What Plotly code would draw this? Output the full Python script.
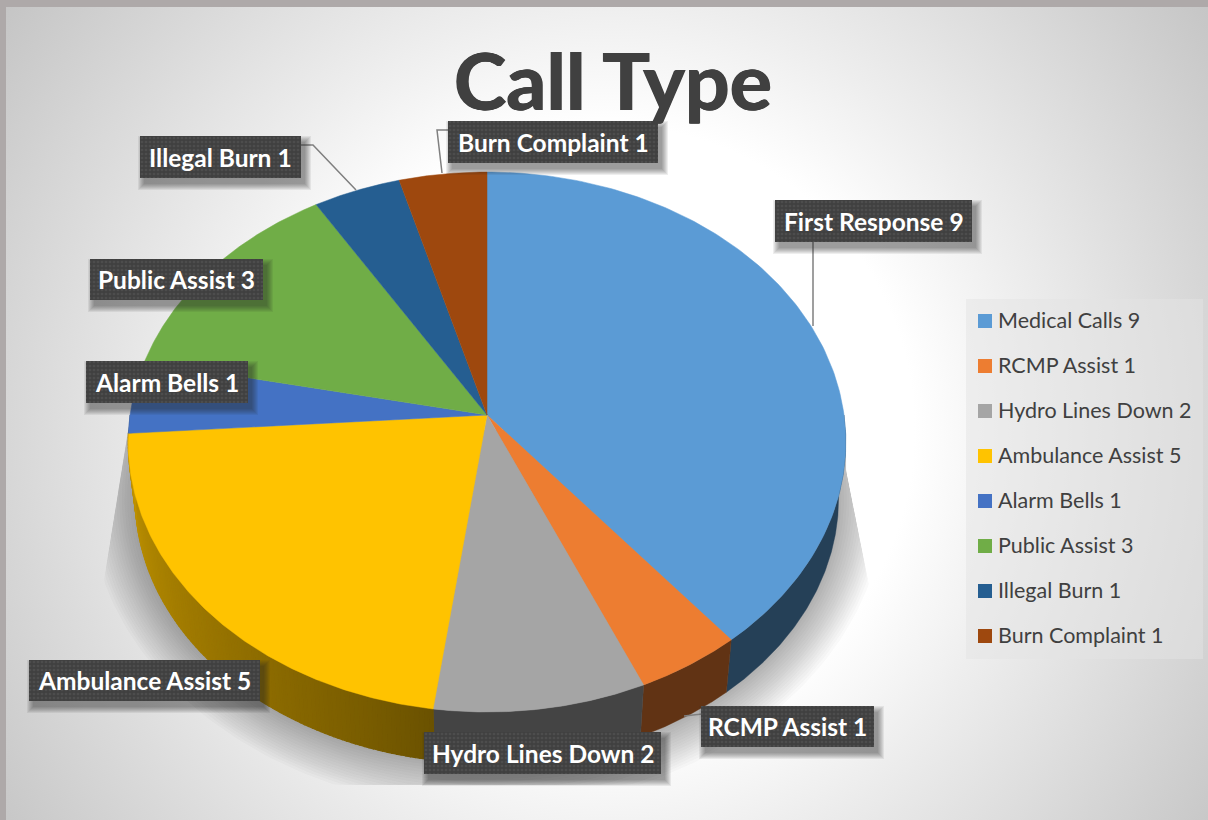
import base64
import numpy as np
import plotly.graph_objects as go

# ---- data ----
legend_names = ["Medical Calls", "RCMP Assist", "Hydro Lines Down", "Ambulance Assist",
                "Alarm Bells", "Public Assist", "Illegal Burn", "Burn Complaint"]
label_names = ["First Response", "RCMP Assist", "Hydro Lines Down", "Ambulance Assist",
               "Alarm Bells", "Public Assist", "Illegal Burn", "Burn Complaint"]
values = [9, 1, 2, 5, 1, 3, 1, 1]
colors = ["#5B9BD5", "#ED7D31", "#A5A5A5", "#FFC300", "#4472C4", "#70AD47", "#255E91", "#9E480E"]

# ---- layout constants ----
W, H = 1208, 820
CX, CY = 487, 415
A, B, K = 357, 267.3, 0.10      # perspective disc
DEPTH, SHRINK = 57, 0.98        # extrusion
label_boxes = [(775, 200, 972, 242), (701, 706, 874, 747), (424, 732, 661, 774), (29, 660, 260, 701),
               (86, 361, 248, 403), (90, 259, 263, 300), (140, 136, 301, 178), (448, 121, 658, 163)]
leaders = [[(813, 242), (813, 326)], [(702, 714), (684, 716)], None, None, None, None,
           [(301, 145), (313, 145), (356, 190)], [(448, 130), (437, 130), (442, 173)]]
legend_ys = [321, 366, 411, 456, 501, 546, 591, 636]

# ---- geometry helpers ----
def rim(th):
    u, v = np.sin(th), np.cos(th)
    w = 1 + K * v
    return CX + A * u / w, CY - B * v / w

def low(th):
    x, y = rim(th)
    return CX + (x - CX) * SHRINK, CY + (y - CY) * SHRINK + DEPTH

def shade(hex_c, f):
    r, g, b = (int(hex_c[i:i + 2], 16) for i in (1, 3, 5))
    return f"rgb({r * f:.0f},{g * f:.0f},{b * f:.0f})"

def box_poly(boxes, dx=0, dy=0, e=0):
    xs, ys = [], []
    for x0, y0, x1, y1 in boxes:
        xs += [x0 + dx - e, x1 + dx + e, x1 + dx + e, x0 + dx - e, x0 + dx - e, None]
        ys += [y0 + dy - e, y0 + dy - e, y1 + dy + e, y1 + dy + e, y0 + dy - e, None]
    return xs, ys

def poly(xs, ys, color, name=None, lw=0):
    return go.Scatter(x=xs, y=ys, mode="lines", fill="toself", fillcolor=color,
                      line=dict(width=lw, color=color), hoverinfo="skip" if name is None else "text",
                      text=name, showlegend=False)

edges = 2 * np.pi * np.concatenate([[0], np.cumsum(values)]) / sum(values)
fig = go.Figure()

# ---- soft shadow below the pie ----
all_th = np.linspace(0, 2 * np.pi, 361)
lx, ly = low(all_th)
sc_x, sc_y = CX, CY + 27 + DEPTH
dist = np.hypot(lx - sc_x, ly - sc_y)
for e in np.linspace(46, 0, 18):
    px = sc_x + (lx - sc_x) * (1 + e / dist)
    py = sc_y + (ly - sc_y) * (1 + e / dist)
    py = np.clip(py, 430, 785)
    left = 128 - (py - 430) * 24 / 150
    right = 846 + np.maximum(py - 470, 0) * 24 / 120
    px = np.clip(px, left, right)
    fig.add_trace(poly(px, py, "rgba(60,60,60,0.022)"))

# ---- side walls (only the front half can show) ----
for i, c in enumerate(colors):
    t0, t1 = edges[i], edges[i + 1]
    v0, v1 = max(t0, np.pi / 2), min(t1, 1.5 * np.pi)
    if v1 <= v0:
        continue
    if c == "#FFC300":
        cuts = np.linspace(v0, v1, 111)
        for a0, a1 in zip(cuts[:-1], cuts[1:]):
            tt = np.linspace(a0, a1, 3)
            x0, y0 = rim(tt)
            x1, y1 = low(tt)
            f = 0.42 + 0.34 * ((a0 - t0) / (t1 - t0)) ** 0.9
            col = shade(c, f)
            fig.add_trace(poly(list(x0) + list(x1[::-1]) + [x0[0]],
                               list(y0) + list(y1[::-1]) + [y0[0]], col, lw=1.2))
    else:
        tt = np.linspace(v0, v1, 121)
        x0, y0 = rim(tt)
        x1, y1 = low(tt)
        fig.add_trace(poly(list(x0) + list(x1[::-1]) + [x0[0]],
                           list(y0) + list(y1[::-1]) + [y0[0]], shade(c, 0.41), lw=0.4))

# ---- top faces ----
for i, c in enumerate(colors):
    tt = np.linspace(edges[i], edges[i + 1], 161)
    x, y = rim(tt)
    fig.add_trace(poly([CX] + list(x) + [CX], [CY] + list(y) + [CY], c,
                       f"{legend_names[i]}: {values[i]}", lw=0.5))

# ---- leader lines ----
for seg in leaders:
    if seg:
        fig.add_trace(go.Scatter(x=[p[0] for p in seg], y=[p[1] for p in seg], mode="lines",
                                 line=dict(color="#7f7f7f", width=1.5), hoverinfo="skip", showlegend=False))

# ---- label boxes ----
for e in [6, 5, 4, 3, 2, 1, 0]:
    xs, ys = box_poly(label_boxes, 4, 6, e)
    fig.add_trace(poly(xs, ys, "rgba(40,40,40,0.08)"))
xs, ys = box_poly(label_boxes)
fig.add_trace(go.Scatter(x=xs, y=ys, mode="lines", fill="toself", fillcolor="#404040",
                         fillpattern=dict(shape=".", size=4, solidity=0.35, bgcolor="#404040", fgcolor="#5a5a5a"),
                         line=dict(width=0), hoverinfo="skip", showlegend=False))

# ---- legend panel ----
fig.add_trace(poly([966, 1203, 1203, 966, 966], [299, 299, 659, 659, 299], "rgba(228,228,228,0.5)"))
fig.add_trace(go.Scatter(x=[985] * len(colors), y=legend_ys, mode="markers",
                         marker=dict(symbol="square", size=14, color=colors, line=dict(width=0)),
                         hoverinfo="skip", showlegend=False))

annotations = []
for name, v, (x0, y0, x1, y1) in zip(label_names, values, label_boxes):
    annotations.append(dict(x=(x0 + x1) / 2, y=(y0 + y1) / 2, text=f"<b>{name} {v}</b>", showarrow=False,
                            font=dict(family="Lato", size=24.5, color="white"),
                            xanchor="center", yanchor="middle"))
for name, v, yy in zip(legend_names, values, legend_ys):
    annotations.append(dict(x=996, y=yy - 1.5, text=f"{name} {v}", showarrow=False,
                            font=dict(family="Lato", size=21.5, color="#404040"),
                            xanchor="left", yanchor="middle"))

# ---- page background ----
svg = f'''<svg xmlns="http://www.w3.org/2000/svg" width="{W}" height="{H}">
<defs><radialGradient id="g" gradientUnits="userSpaceOnUse" cx="610" cy="430" r="760">
<stop offset="0" stop-color="#ffffff"/><stop offset="0.40" stop-color="#ffffff"/>
<stop offset="0.56" stop-color="#eeeeee"/><stop offset="0.84" stop-color="#d2d2d2"/>
<stop offset="1" stop-color="#c2c2c2"/></radialGradient></defs>
<rect width="{W}" height="{H}" fill="url(#g)"/>
<rect width="{W}" height="7" fill="#aea9a9"/><rect width="6" height="{H}" fill="#aea9a9"/></svg>'''
uri = "data:image/svg+xml;base64," + base64.b64encode(svg.encode()).decode()

fig.update_layout(
    width=W, height=H, margin=dict(l=0, r=0, t=0, b=0), showlegend=False,
    paper_bgcolor="white", plot_bgcolor="rgba(0,0,0,0)",
    title=dict(text="<b>Call Type</b>", x=613 / W, xanchor="center", y=1 - 82 / H, yanchor="middle",
               font=dict(family="Lato", size=79, color="#404040",
                         shadow="0.7px 0 0 #404040, -0.7px 0 0 #404040")),
    xaxis=dict(range=[0, W], visible=False, fixedrange=True),
    yaxis=dict(range=[H, 0], visible=False, fixedrange=True),
    images=[dict(source=uri, xref="paper", yref="paper", x=0, y=1, sizex=1, sizey=1,
                 xanchor="left", yanchor="top", sizing="stretch", layer="below")],
    annotations=annotations,
)
fig.write_html("out.html", config=dict(displayModeBar=False),
               post_script="document.body.style.margin='0';document.body.style.overflow='hidden';")
